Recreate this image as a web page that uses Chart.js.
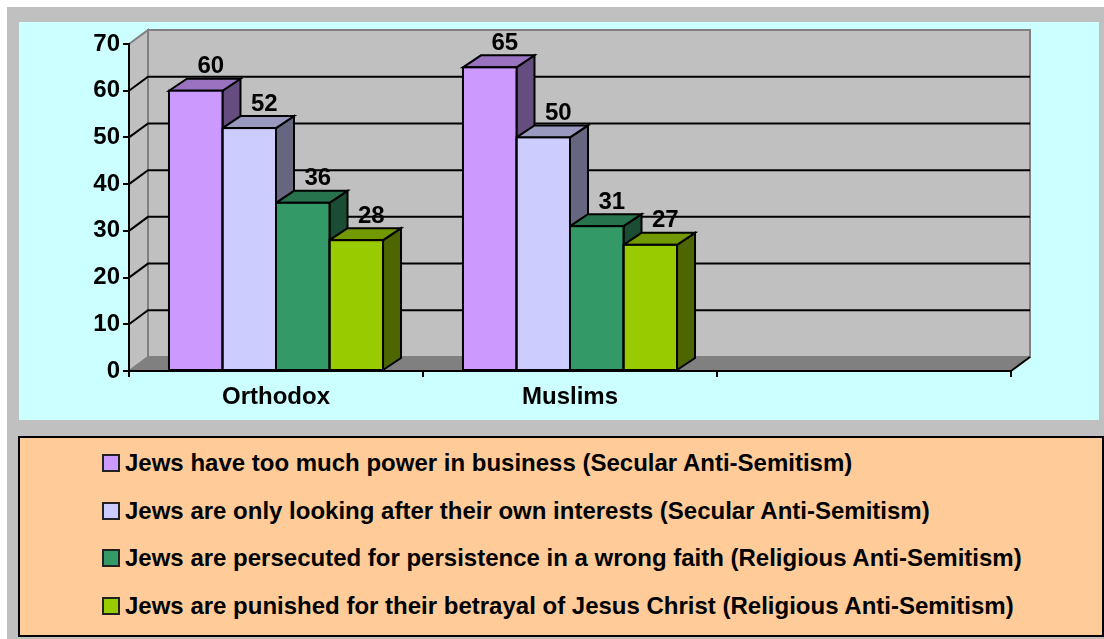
<!DOCTYPE html>
<html>
<head>
<meta charset="utf-8">
<script src="https://cdn.jsdelivr.net/npm/chart.js@4.4.0/dist/chart.umd.min.js"></script>
<style>
  html, body { margin: 0; padding: 0; background: #fff; }
  body { width: 1104px; height: 639px; position: relative; overflow: hidden; font-family: "Liberation Sans", Arial, sans-serif; }
  #frame { position: absolute; left: 7px; top: 7px; right: 0; bottom: 0; background: #C0C0C0; }
  #plot { position: absolute; left: 19px; top: 22px; width: 1080px; height: 398px; background: #CCFFFF; }
  #legend { position: absolute; left: 18px; top: 436px; width: 1086px; height: 201px; box-sizing: border-box;
            border: 2px solid #000; background: #FFCC99; }
  .item { position: absolute; left: 82px; height: 28px; display: flex; align-items: center;
          font-weight: bold; font-size: 24px; color: #000; white-space: nowrap; }
  .item span.box { width: 14px; height: 14px; border: 2px solid #222; margin-right: 5px; display: inline-block; }
</style>
</head>
<body>
<div id="frame"></div>
<div id="plot"><canvas id="chart" width="1080" height="398"></canvas></div>
<div id="legend"></div>
<script>
(function(){
  const categories = ['Orthodox', 'Muslims', ''];
  const seriesLabels = [
    'Jews have too much power in business (Secular Anti-Semitism)',
    'Jews are only looking after their own interests (Secular Anti-Semitism)',
    'Jews are persecuted for persistence in a wrong faith (Religious Anti-Semitism)',
    'Jews are punished for their betrayal of Jesus Christ (Religious Anti-Semitism)'
  ];
  const powerInBusiness = [60, 65, null];
  const ownInterests    = [52, 50, null];
  const wrongFaith      = [36, 31, null];
  const betrayal        = [28, 27, null];
  const yMin = 0, yMax = 70, yStep = 10;

  const fronts = ['#CC99FF', '#CCCCFF', '#339966', '#99CC00'];
  const tops   = ['#9973BF', '#9999BF', '#26734D', '#739900'];
  const sides  = ['#664D80', '#666680', '#1A4D33', '#4D6600'];

  const WX = 19, WY = 14;   // wall depth
  const BX = 18, BY = 12;   // bar depth
  const font = '"Liberation Sans", Arial, sans-serif';

  function poly(ctx, pts, fill, stroke, lw) {
    ctx.beginPath();
    ctx.moveTo(pts[0][0], pts[0][1]);
    for (let i = 1; i < pts.length; i++) ctx.lineTo(pts[i][0], pts[i][1]);
    ctx.closePath();
    if (fill) { ctx.fillStyle = fill; ctx.fill(); }
    if (stroke) { ctx.strokeStyle = stroke; ctx.lineWidth = lw || 2; ctx.stroke(); }
  }

  const walls = {
    id: 'walls',
    beforeDraw(chart) {
      const ctx = chart.ctx, a = chart.chartArea, y = chart.scales.y;
      const L = a.left, R = a.right, T = a.top, B = a.bottom;
      ctx.save();
      ctx.lineJoin = 'miter';
      // back wall
      poly(ctx, [[L + WX, T - WY], [R + WX, T - WY], [R + WX, B - WY], [L + WX, B - WY]], '#C0C0C0', '#808080', 2);
      // left wall
      poly(ctx, [[L, T], [L + WX, T - WY], [L + WX, B - WY], [L, B]], '#C0C0C0', '#808080', 2);
      // floor
      poly(ctx, [[L, B], [L + WX, B - WY], [R + WX, B - WY], [R, B]], '#808080', null);
      ctx.strokeStyle = '#000'; ctx.lineWidth = 2;
      ctx.beginPath(); ctx.moveTo(R, B); ctx.lineTo(R + WX, B - WY); ctx.stroke();
      // gridlines
      y.ticks.forEach(t => {
        if (t.value <= yMin || t.value >= yMax) return;
        const py = y.getPixelForValue(t.value);
        ctx.beginPath();
        ctx.moveTo(L, py); ctx.lineTo(L + WX, py - WY); ctx.lineTo(R + WX, py - WY);
        ctx.stroke();
      });
      ctx.restore();
    },
    beforeDatasetsDraw(chart) {
      const ctx = chart.ctx;
      ctx.save();
      ctx.lineJoin = 'miter';
      chart.data.datasets.forEach((ds, di) => {
        chart.getDatasetMeta(di).data.forEach((el, i) => {
          if (ds.data[i] == null) return;
          const p = el.getProps(['x', 'y', 'base', 'width'], true);
          const l = p.x - p.width / 2, r = p.x + p.width / 2;
          poly(ctx, [[r, p.y], [r + BX, p.y - BY], [r + BX, p.base - BY], [r, p.base]], sides[di], '#000', 2);
          poly(ctx, [[l, p.y], [l + BX, p.y - BY], [r + BX, p.y - BY], [r, p.y]], tops[di], '#000', 2);
        });
      });
      ctx.restore();
    },
    afterDatasetsDraw(chart) {
      const ctx = chart.ctx;
      ctx.save();
      ctx.strokeStyle = '#000'; ctx.lineWidth = 2;
      chart.data.datasets.forEach((ds, di) => {
        chart.getDatasetMeta(di).data.forEach((el, i) => {
          if (ds.data[i] == null) return;
          const p = el.getProps(['x', 'y', 'base', 'width'], true);
          ctx.strokeRect(p.x - p.width / 2, p.y, p.width, p.base - p.y);
        });
      });
      ctx.fillStyle = '#000';
      ctx.font = 'bold 24px ' + font;
      ctx.textAlign = 'center';
      ctx.textBaseline = 'middle';
      chart.data.datasets.forEach((ds, di) => {
        chart.getDatasetMeta(di).data.forEach((el, i) => {
          if (ds.data[i] == null) return;
          const p = el.getProps(['x', 'y'], true);
          ctx.fillText(String(ds.data[i]), p.x + 15, p.y - BY - 12);
        });
      });
      ctx.restore();
    }
  };

  const series = [powerInBusiness, ownInterests, wrongFaith, betrayal];

  new Chart(document.getElementById('chart'), {
    type: 'bar',
    data: {
      labels: categories,
      datasets: series.map((d, i) => ({
        label: seriesLabels[i],
        data: d,
        backgroundColor: fronts[i],
        borderWidth: 0,
        categoryPercentage: 0.728,
        barPercentage: 1
      }))
    },
    options: {
      responsive: false,
      animation: false,
      layout: { padding: { top: 22, right: 88, left: 0, bottom: 0 } },
      scales: {
        x: {
          offset: true,
          grid: { offset: true, drawOnChartArea: false, drawTicks: true, tickLength: 6, color: '#000', lineWidth: 2 },
          border: { display: true, color: '#000', width: 2 },
          ticks: { color: '#000', font: { family: font, size: 24, weight: 'bold' }, padding: 6, maxRotation: 0 },
          afterFit(s) { s.height = 49; }
        },
        y: {
          min: yMin, max: yMax,
          grid: { drawOnChartArea: false, drawTicks: true, tickLength: 6, color: '#000', lineWidth: 2 },
          border: { display: true, color: '#000', width: 2 },
          ticks: { stepSize: yStep, color: '#000', font: { family: font, size: 24, weight: 'bold' }, padding: 3 },
          afterFit(s) { s.width = 110; }
        }
      },
      plugins: {
        legend: { display: false },
        tooltip: { enabled: false }
      }
    },
    plugins: [walls]
  });

  const legend = document.getElementById('legend');
  const rowTops = [11, 59, 106, 154];
  seriesLabels.forEach((txt, i) => {
    const row = document.createElement('div');
    row.className = 'item';
    row.style.top = rowTops[i] + 'px';
    const box = document.createElement('span');
    box.className = 'box';
    box.style.background = fronts[i];
    row.appendChild(box);
    row.appendChild(document.createTextNode(txt));
    legend.appendChild(row);
  });
})();
</script>
</body>
</html>
